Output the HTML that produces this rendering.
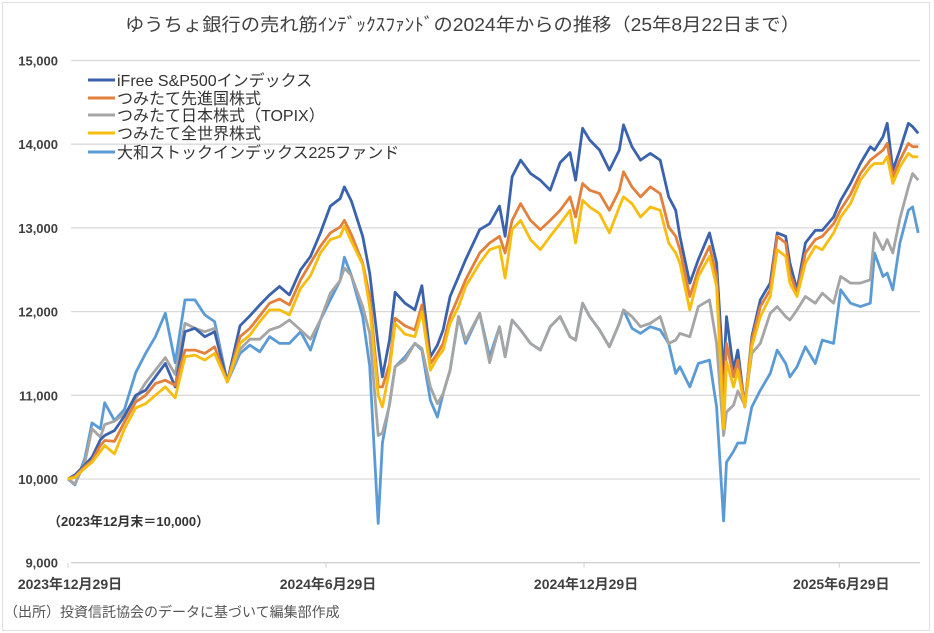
<!DOCTYPE html>
<html><head><meta charset="utf-8">
<style>
html,body{margin:0;padding:0;background:#fff;}
svg{display:block;font-family:"Liberation Sans","Noto Sans CJK JP",sans-serif;}
</style></head>
<body>
<svg id="chart" width="934" height="633" viewBox="0 0 934 633" xmlns="http://www.w3.org/2000/svg">
<rect x="2.5" y="2.5" width="927" height="628" fill="#fff" stroke="#e0e0e0"/>
<text x="125" y="31" font-size="18" fill="#404040" textLength="675" lengthAdjust="spacingAndGlyphs">ゆうちょ銀行の売れ筋ｲﾝﾃﾞｯｸｽﾌｧﾝﾄﾞの2024年からの推移（25年8月22日まで）</text>
<g id="grid"></g>
<g id="yticks"></g>
<g id="xticks"></g>
<g id="series"></g>
<g font-size="16" fill="#333">
 <g><line x1="88" y1="80" x2="115" y2="80" stroke="#3a62ad" stroke-width="3"/><text x="117" y="86">iFree S&amp;P500インデックス</text></g>
 <g><line x1="88" y1="98" x2="115" y2="98" stroke="#e2803c" stroke-width="3"/><text x="117" y="104">つみたて先進国株式</text></g>
 <g><line x1="88" y1="115" x2="115" y2="115" stroke="#a5a5a5" stroke-width="3"/><text x="117" y="121">つみたて日本株式（TOPIX）</text></g>
 <g><line x1="88" y1="133" x2="115" y2="133" stroke="#f7bd10" stroke-width="3"/><text x="117" y="139">つみたて全世界株式</text></g>
 <g><line x1="88" y1="152" x2="115" y2="152" stroke="#5b9bd5" stroke-width="3"/><text x="117" y="158">大和ストックインデックス225ファンド</text></g>
</g>
<text x="48" y="526" font-size="13" font-weight="bold" fill="#333">（2023年12月末＝10,000）</text>
<text x="4" y="617" font-size="14" fill="#555">（出所）投資信託協会のデータに基づいて編集部作成</text>
</svg>
<script>
const days=[0,5,12,17,23,26,33,40,48,55,62,69,76,83,90,97,104,113,122,129,136,143,150,157,165,172,179,186,193,196,201,209,214,220,223,228,232,239,246,251,257,262,266,271,277,282,292,299,306,310,315,321,328,335,342,349,356,360,365,370,377,384,391,394,400,406,413,420,426,431,434,441,447,455,460,465,467,472,475,480,485,491,498,503,509,512,517,523,530,535,543,548,555,562,569,572,578,581,585,590,596,599,603];
const sp500=[10000,10050,10170,10260,10470,10520,10580,10750,11000,11060,11220,11380,11100,11760,11800,11700,11760,11160,11830,11950,12080,12200,12300,12200,12500,12660,12940,13260,13350,13490,13320,12900,12460,11590,11220,11660,12230,12100,12020,12310,11460,11600,11780,12180,12420,12620,12980,13050,13260,12900,13610,13810,13650,13570,13450,13780,13900,13570,14190,14050,13930,13690,13930,14230,13970,13810,13890,13810,13370,13210,12900,12340,12620,12940,12580,11220,11940,11300,11540,10860,11700,12140,12340,12940,12900,12580,12260,12820,12970,12970,13130,13330,13530,13770,13970,13930,14090,14250,13690,13930,14250,14210,14130];
const developed=[10000,10030,10150,10220,10400,10460,10450,10680,10920,11000,11140,11180,11120,11540,11540,11500,11580,11160,11700,11800,11950,12100,12150,12080,12380,12580,12780,12940,13010,13090,12920,12580,12180,11100,11100,11370,11920,11830,11780,12080,11380,11500,11620,11940,12180,12380,12700,12820,12900,12700,13090,13290,13090,12980,13090,13210,13370,13130,13530,13450,13410,13210,13450,13670,13490,13370,13490,13410,13010,12900,12740,12180,12500,12780,12420,10900,11620,11220,11420,10880,11660,12060,12260,12900,12820,12460,12220,12700,12860,12900,13050,13220,13400,13650,13810,13850,13930,14010,13610,13810,14010,13970,13970];
const topix=[10000,9940,10200,10600,10500,10650,10690,10780,10960,11150,11300,11450,11250,11860,11800,11760,11800,11160,11550,11670,11670,11780,11820,11900,11780,11670,11900,12220,12370,12520,12430,12060,11740,10520,10550,10880,11340,11420,11620,11560,11100,10900,11020,11300,11940,11660,11980,11390,11820,11460,11900,11780,11620,11540,11820,11940,11700,11660,12100,11940,11780,11580,11860,12020,11940,11820,11860,11940,11620,11660,11740,11700,12060,12140,11620,10520,10800,10880,11050,10880,11500,11620,11980,12060,11940,11900,12020,12180,12100,12220,12100,12420,12340,12340,12380,12940,12740,12860,12700,13110,13490,13650,13570];
const world=[10000,10020,10130,10200,10330,10400,10300,10600,10850,10900,11000,11100,10970,11460,11480,11420,11500,11160,11620,11720,11880,12020,12020,11960,12280,12430,12700,12860,12900,13020,12840,12560,12060,11000,10860,11300,11860,11730,11700,12000,11300,11450,11540,11860,12060,12300,12580,12740,12780,12400,12980,13090,12860,12740,12900,13050,13210,12820,13330,13250,13170,12940,13250,13370,13290,13130,13250,13210,12820,12700,12580,12020,12420,12660,12300,10600,11400,11100,11300,10860,11580,11940,12180,12740,12660,12340,12180,12580,12780,12740,12940,13130,13290,13570,13730,13770,13770,13850,13530,13730,13890,13850,13850];
const nikkei225=[10000,9930,10250,10670,10600,10910,10700,10830,11270,11500,11700,11980,11390,12140,12140,11960,11880,11160,11500,11600,11520,11700,11620,11620,11760,11540,11900,12140,12370,12650,12430,11940,11350,9470,10430,10900,11340,11460,11620,11540,10940,10740,11020,11300,11940,11620,11980,11460,11820,11460,11900,11780,11620,11540,11820,11940,11700,11660,12100,11940,11780,11580,11860,12020,11800,11740,11820,11780,11620,11260,11340,11100,11380,11420,10860,9500,10200,10330,10430,10430,10860,11060,11260,11540,11380,11220,11340,11580,11380,11660,11620,12260,12100,12060,12100,12700,12420,12460,12260,12820,13210,13250,12940];
const yTicks=[9000,10000,11000,12000,13000,14000,15000];
const xTickDays=[0,183,366,547];
const xTickLabels=["2023年12月29日","2024年6月29日","2024年12月29日","2025年6月29日"];

const X0=68, PXDAY=1.41, Y0=479, PXUNIT=83.7/1000;
function xs(d){return X0+d*PXDAY;}
function ys(v){return Y0-(v-10000)*PXUNIT;}
const NS="http://www.w3.org/2000/svg";
const grid=document.getElementById('grid'), yt=document.getElementById('yticks'), xt=document.getElementById('xticks'), ser=document.getElementById('series');
yTicks.forEach(v=>{
  const l=document.createElementNS(NS,'line');
  
  
  l.setAttribute('x1',71);l.setAttribute('x2',920);l.setAttribute('y1',ys(v));l.setAttribute('y2',ys(v));
  l.setAttribute('stroke',v===9000?'#cfcfcf':'#d9d9d9');l.setAttribute('stroke-width',1.3);
  grid.appendChild(l);
  const t=document.createElementNS(NS,'text');
  
  
  t.setAttribute('x',58);t.setAttribute('y',ys(v)+5);t.setAttribute('text-anchor','end');
  t.setAttribute('font-size','13');t.setAttribute('font-weight','bold');t.setAttribute('fill','#404040');
  t.textContent=v.toLocaleString('en-US');
  yt.appendChild(t);
});
xTickDays.forEach((d,i)=>{
  const tk=document.createElementNS(NS,'line');
  
  
  tk.setAttribute('x1',xs(d));tk.setAttribute('x2',xs(d));tk.setAttribute('y1',ys(9000));tk.setAttribute('y2',ys(9000)+5);
  tk.setAttribute('stroke','#d0d0d0');
  xt.appendChild(tk);
  const t=document.createElementNS(NS,'text');
  
  
  t.setAttribute('x',xs(d)+2);t.setAttribute('y',589);t.setAttribute('text-anchor','middle');
  t.setAttribute('font-size','14');t.setAttribute('font-weight','bold');t.setAttribute('fill','#404040');
  t.textContent=xTickLabels[i];
  xt.appendChild(t);
});
const seriesList=[["nikkei225-line",nikkei225,"#5b9bd5"],["topix-line",topix,"#a5a5a5"],["sp500-line",sp500,"#3a62ad"],["developed-line",developed,"#e2803c"],["world-line",world,"#f7bd10"]];
seriesList.forEach(s=>{
  const p=document.createElementNS(NS,'polyline');
  
  
  p.setAttribute('points',s[1].map((v,i)=>xs(days[i]).toFixed(1)+','+ys(v).toFixed(1)).join(' '));
  p.setAttribute('fill','none');p.setAttribute('stroke',s[2]);p.setAttribute('stroke-width','2.8');
  p.setAttribute('stroke-linejoin','round');
  ser.appendChild(p);
});
</script>
</body></html>
